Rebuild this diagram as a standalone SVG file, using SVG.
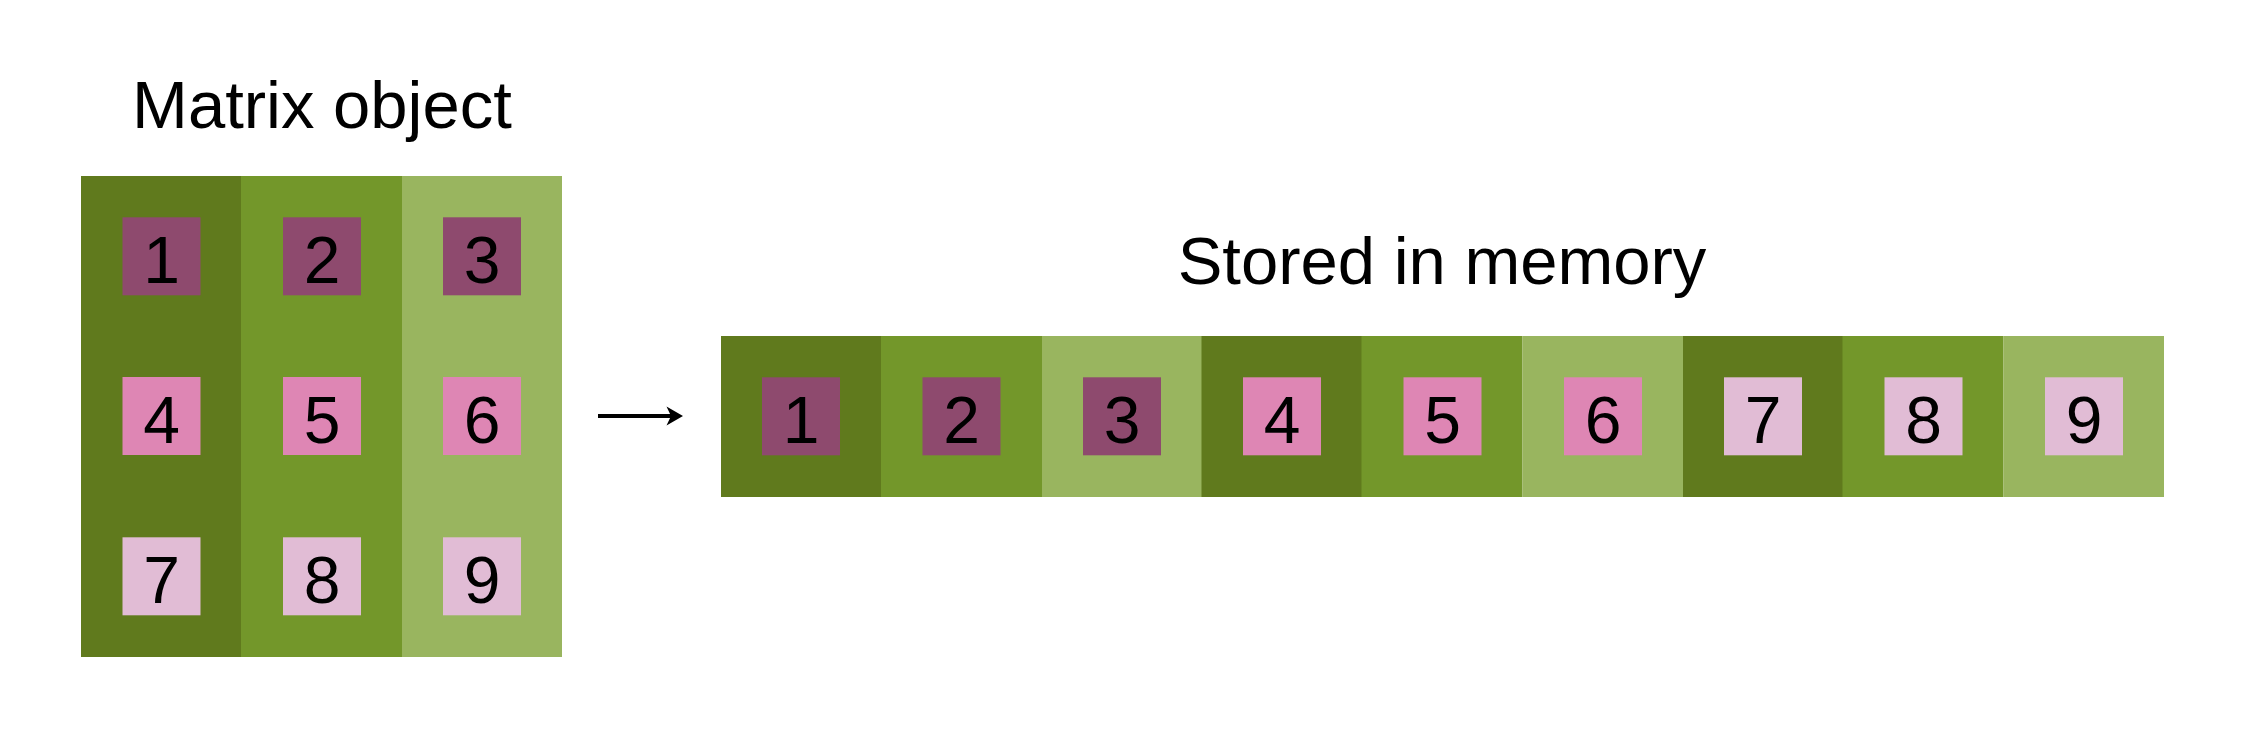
<svg xmlns="http://www.w3.org/2000/svg" width="2249" height="731" viewBox="0 0 2249 731">
<style>
.c1{fill:#607A1D}.c2{fill:#73972A}.c3{fill:#99B55F}
.s1{fill:#8E4A6E}.s2{fill:#DE86B4}.s3{fill:#E1BCD5}
text{font-family:"Liberation Sans",Arial,sans-serif;fill:#000}
.t{font-size:67px;text-anchor:middle}
.n{font-size:66px;text-anchor:middle}
</style>
<rect width="2249" height="731" fill="#fff"/>
<g id="matrix">
<text class="t" x="322" y="128">Matrix object</text>
<rect class="c1" x="81" y="176" width="160.5" height="481"/>
<rect class="c2" x="241" y="176" width="161" height="481"/>
<rect class="c3" x="402" y="176" width="160" height="481"/>
<rect class="s1" x="122.5" y="217.3" width="78" height="78"/><text class="n" x="161.5" y="283">1</text>
<rect class="s1" x="283" y="217.3" width="78" height="78"/><text class="n" x="322" y="283">2</text>
<rect class="s1" x="443" y="217.3" width="78" height="78"/><text class="n" x="482" y="283">3</text>
<rect class="s2" x="122.5" y="377" width="78" height="78"/><text class="n" x="161.5" y="443">4</text>
<rect class="s2" x="283" y="377" width="78" height="78"/><text class="n" x="322" y="443">5</text>
<rect class="s2" x="443" y="377" width="78" height="78"/><text class="n" x="482" y="443">6</text>
<rect class="s3" x="122.5" y="537.3" width="78" height="78"/><text class="n" x="161.5" y="603">7</text>
<rect class="s3" x="283" y="537.3" width="78" height="78"/><text class="n" x="322" y="603">8</text>
<rect class="s3" x="443" y="537.3" width="78" height="78"/><text class="n" x="482" y="603">9</text>
</g>
<g id="connectors">
<line x1="598" y1="416" x2="672" y2="416" stroke="#000" stroke-width="4"/>
<path d="M683,416 L666.5,406.5 L671,416 L666.5,425.5 Z" fill="#000"/>
</g>
<g id="memory">
<text class="t" x="1442" y="284">Stored in memory</text>
<rect class="c1" x="721" y="336" width="160.5" height="161"/>
<rect class="c2" x="881" y="336" width="161" height="161"/>
<rect class="c3" x="1042" y="336" width="160" height="161"/>
<rect class="c1" x="1201.5" y="336" width="160.5" height="161"/>
<rect class="c2" x="1361.5" y="336" width="161" height="161"/>
<rect class="c3" x="1522.5" y="336" width="161" height="161"/>
<rect class="c1" x="1683" y="336" width="160" height="161"/>
<rect class="c2" x="1842.5" y="336" width="161" height="161"/>
<rect class="c3" x="2003.5" y="336" width="160.5" height="161"/>
<rect class="s1" x="762" y="377.3" width="78" height="78"/><text class="n" x="801" y="443">1</text>
<rect class="s1" x="922.5" y="377.3" width="78" height="78"/><text class="n" x="961.5" y="443">2</text>
<rect class="s1" x="1083" y="377.3" width="78" height="78"/><text class="n" x="1122" y="443">3</text>
<rect class="s2" x="1243" y="377.3" width="78" height="78"/><text class="n" x="1282" y="443">4</text>
<rect class="s2" x="1403.5" y="377.3" width="78" height="78"/><text class="n" x="1442.5" y="443">5</text>
<rect class="s2" x="1564" y="377.3" width="78" height="78"/><text class="n" x="1603" y="443">6</text>
<rect class="s3" x="1724" y="377.3" width="78" height="78"/><text class="n" x="1763" y="443">7</text>
<rect class="s3" x="1884.5" y="377.3" width="78" height="78"/><text class="n" x="1923.5" y="443">8</text>
<rect class="s3" x="2045" y="377.3" width="78" height="78"/><text class="n" x="2084" y="443">9</text>
</g>
</svg>
